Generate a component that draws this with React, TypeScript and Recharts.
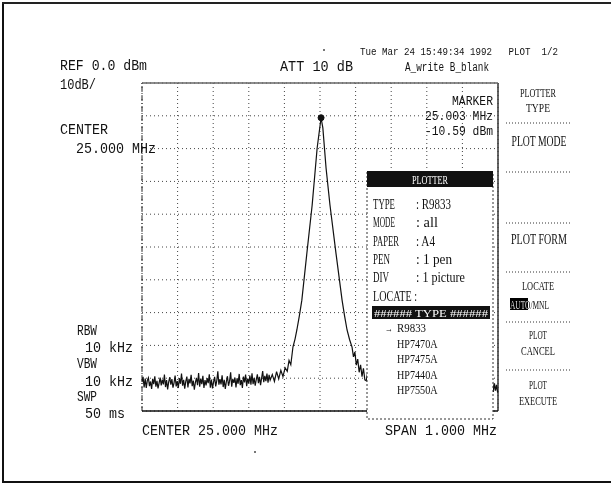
import React from "react";
import {
  LineChart,
  Line,
  XAxis,
  YAxis,
  CartesianGrid,
  ReferenceLine,
  ReferenceDot
} from "recharts";

// sweep: CENTER 25.000 MHz, SPAN 1.000 MHz, REF 0.0 dBm, 10 dB/div
const xTicks = [24.5, 24.6, 24.7, 24.8, 24.9, 25.0, 25.1, 25.2, 25.3, 25.4, 25.5];
const yTicks = [0, -10, -20, -30, -40, -50, -60, -70, -80, -90, -100];

const NOISE_STEP = 0.003;
const noiseLeftStart = 24.5;
const noiseLeft = [
  -91.2, -89.6, -92.8, -90.1, -93.0, -90.7, -89.9, -92.4, -91.0, -93.3,
  -90.2, -91.8, -89.4, -92.6, -90.8, -93.1, -91.5, -89.8, -92.2, -90.4,
  -91.9, -88.9, -92.7, -90.6, -93.4, -91.1, -89.7, -92.0, -90.3, -92.9,
  -91.4, -89.2, -92.5, -90.9, -93.0, -90.0, -91.7, -88.6, -92.3, -90.5,
  -93.2, -91.0, -89.5, -92.8, -90.2, -91.6, -89.0, -92.4, -90.7, -93.5,
  -91.3, -89.9, -92.1, -88.4, -92.6, -90.1, -91.8, -89.3, -93.0, -90.6,
  -92.2, -90.0, -91.5, -88.8, -92.9, -90.4, -93.1, -91.2, -89.6, -92.5,
  -90.8, -87.9, -92.0, -90.3, -91.9, -89.1, -92.7, -90.5, -93.3, -91.0,
  -89.4, -92.3, -90.9, -88.2, -92.6, -90.2, -91.4, -89.8, -92.8, -90.0,
  -91.7, -88.7, -92.1, -90.6, -93.0, -89.5, -91.3, -88.9, -92.4, -90.1,
  -91.6, -89.2, -92.0, -88.5, -91.8, -89.9, -92.3, -90.4, -88.8, -91.5,
  -89.6, -92.1, -90.0, -87.8, -91.2, -89.3, -90.9, -88.6, -91.4, -89.0
];

// carrier at marker 25.003 MHz / -10.59 dBm
const peakFreqs = [
  24.86, 24.866, 24.872, 24.878, 24.884, 24.89, 24.896, 24.902, 24.908, 24.913,
  24.918, 24.924, 24.93, 24.935, 24.942, 24.949, 24.963, 24.978, 24.992, 25.003,
  25.008, 25.017, 25.028, 25.045, 25.062, 25.069, 25.076, 25.083, 25.09, 25.094,
  25.098, 25.102, 25.106, 25.11, 25.114, 25.118, 25.122, 25.126
];
const peakLevels = [
  -90.6, -88.9, -91.0, -88.0, -90.2, -87.6, -89.5, -86.8, -87.9, -84.6,
  -85.9, -80.5, -78.0, -75.3, -71.0, -66.2, -52.0, -37.2, -19.8, -10.59,
  -13.7, -25.9, -37.2, -52.0, -66.2, -71.0, -75.3, -78.2, -80.5, -83.5,
  -82.0, -86.0, -84.2, -88.2, -85.9, -89.5, -87.0, -90.5
];

const noiseRightStart = 25.13;
const noiseRight = [
  -90.8, -88.7, -91.9, -89.4, -92.5, -90.2, -91.0, -88.9, -92.2, -90.6,
  -93.0, -91.3, -89.5, -92.6, -90.0, -91.7, -89.2, -92.9, -90.8, -93.2,
  -91.1, -89.7, -92.4, -90.3, -91.9, -88.8, -92.7, -90.5, -93.1, -91.4,
  -89.9, -92.0, -90.7, -93.3, -91.0, -89.4, -92.5, -90.1, -91.8, -89.0,
  -92.8, -90.4, -93.0, -91.2, -89.6, -92.3, -90.9, -92.6, -90.2, -91.5,
  -88.7, -92.1, -90.6, -93.4, -91.0, -89.8, -92.4, -90.0, -91.6, -89.3,
  -92.9, -90.5, -93.1, -91.3, -89.5, -92.2, -90.8, -91.9, -89.1, -92.7,
  -90.3, -93.0, -91.1, -89.9, -92.5, -90.4, -91.7, -88.9, -92.3, -90.7,
  -93.2, -91.4, -89.6, -92.0, -90.1, -91.8, -89.2, -92.8, -90.6, -93.3,
  -91.0, -89.7, -92.6, -90.2, -91.5, -88.8, -92.1, -90.9, -93.0, -91.2,
  -89.4, -92.4, -90.0, -91.9, -89.0, -92.7, -90.5, -93.1, -91.6, -89.8,
  -92.2, -90.3, -91.4, -88.6, -92.9, -90.8, -91.0, -93.5, -90.4, -94.2,
  -91.6, -93.8, -92.0, -94.4
];

const marker = { f: 25.003, v: -10.59 };

// PLOTTER window: label, value, label width, value width
const plotterRows: [string, string, number, number][] = [
  ["TYPE", "R9833", 22, 26],
  ["MODE", "all", 22, 13],
  ["PAPER", "A4", 26, 10],
  ["PEN", "1 pen", 17, 27],
  ["DIV", "1 picture", 16, 40]
];
const plotterTypes = ["R9833", "HP7470A", "HP7475A", "HP7440A", "HP7550A"];

const trace = [
  ...noiseLeft.map((v, i) => ({ f: +(noiseLeftStart + i * NOISE_STEP).toFixed(4), v })),
  ...peakFreqs.map((f, i) => ({ f, v: peakLevels[i] })),
  ...noiseRight.map((v, i) => ({ f: +(noiseRightStart + i * NOISE_STEP).toFixed(4), v }))
];

const MONO = "'Liberation Mono', 'DejaVu Sans Mono', monospace";
const SERIF = "'Liberation Serif', serif";

function T(props: {
  x: number;
  y: number;
  w: number;
  children: React.ReactNode;
  anchor?: "start" | "middle" | "end";
  fill?: string;
  font?: string;
  size?: number;
}) {
  return (
    <text
      x={props.x}
      y={props.y}
      textLength={props.w}
      lengthAdjust="spacingAndGlyphs"
      textAnchor={props.anchor ?? "start"}
      fill={props.fill ?? "#111"}
      fontFamily={props.font ?? MONO}
      fontSize={props.size ?? 14}
      style={{ whiteSpace: "pre" }}
    >
      {props.children}
    </text>
  );
}

export default function App() {
  return (
    <div style={{ position: "absolute", left: 0, top: 0, width: 611, height: 485, background: "#fff" }}>
      <LineChart
        width={611}
        height={485}
        data={trace}
        margin={{ top: 83, right: 113, bottom: 74, left: 142 }}
      >
        <XAxis type="number" dataKey="f" domain={[24.5, 25.5]} ticks={xTicks} hide />
        <YAxis type="number" domain={[-100, 0]} ticks={yTicks} hide />
        <CartesianGrid stroke="#444" strokeDasharray="1 3" />
        <ReferenceLine x={24.5} stroke="#222" strokeDasharray="5 2 1 2" />
        <ReferenceLine x={25.5} stroke="#333" strokeWidth={1.5} />
        <ReferenceLine y={0} stroke="#666" strokeWidth={1.5} />
        <ReferenceLine y={-100} stroke="#111" strokeWidth={1.5} />
        <Line
          dataKey="v"
          type="linear"
          stroke="#111"
          strokeWidth={1.2}
          dot={false}
          isAnimationActive={false}
        />
        <ReferenceDot x={marker.f} y={marker.v} r={3} fill="#111" stroke="#111" />
      </LineChart>

      <svg
        width={611}
        height={485}
        style={{ position: "absolute", left: 0, top: 0, pointerEvents: "none", background: "transparent" }}
      >
        {/* outer frame */}
        <rect x={2} y={2} width={2} height={481} fill="#111" />
        <rect x={2} y={2} width={609} height={2} fill="#222" />
        <rect x={2} y={481} width={609} height={2} fill="#111" />
        <rect x={323} y={49} width={2} height={2} fill="#777" />
        <rect x={254} y={451} width={2} height={2} fill="#777" />

        {/* header */}
        <T x={360} y={55} w={198} size={10.5}>{"Tue Mar 24 15:49:34 1992   PLOT  1/2"}</T>
        <T x={60} y={70} w={87}>REF 0.0 dBm</T>
        <T x={280} y={71} w={73}>ATT 10 dB</T>
        <T x={405} y={71} w={84} size={12}>A_write B_blank</T>
        <T x={60} y={89} w={36}>10dB/</T>

        {/* marker readout */}
        <T x={493} y={105} w={41} anchor="end" size={13}>MARKER</T>
        <T x={493} y={120} w={68} anchor="end" size={13}>25.003 MHz</T>
        <T x={493} y={135} w={68} anchor="end" size={13}>-10.59 dBm</T>

        {/* left annotations */}
        <T x={60} y={134} w={48}>CENTER</T>
        <T x={76} y={153} w={80}>25.000 MHz</T>
        <T x={77} y={335} w={20}>RBW</T>
        <T x={85} y={352} w={48}>10 kHz</T>
        <T x={77} y={368} w={20}>VBW</T>
        <T x={85} y={386} w={48}>10 kHz</T>
        <T x={77} y={401} w={20}>SWP</T>
        <T x={85} y={418} w={40}>50 ms</T>

        <T x={142} y={435} w={136}>CENTER 25.000 MHz</T>
        <T x={385} y={435} w={112}>SPAN 1.000 MHz</T>

        {/* soft keys */}
        <T x={538} y={97} w={36} anchor="middle" font={SERIF} size={13}>PLOTTER</T>
        <T x={538} y={112} w={24} anchor="middle" font={SERIF} size={13}>TYPE</T>
        <T x={539} y={146} w={55} anchor="middle" font={SERIF} size={14}>PLOT MODE</T>
        <T x={539} y={244} w={56} anchor="middle" font={SERIF} size={14}>PLOT FORM</T>
        <T x={538} y={290} w={32} anchor="middle" font={SERIF} size={13}>LOCATE</T>
        <T x={510} y={309} w={39} font={SERIF} size={12.5}>AUTO/MNL</T>
        {/* inverse video on AUTO */}
        <rect x={510} y={298} width={18} height={12} fill="#fff" style={{ mixBlendMode: "difference" }} />
        <T x={538} y={339} w={18} anchor="middle" font={SERIF} size={13}>PLOT</T>
        <T x={538} y={355} w={34} anchor="middle" font={SERIF} size={13}>CANCEL</T>
        <T x={538} y={389} w={18} anchor="middle" font={SERIF} size={13}>PLOT</T>
        <T x={538} y={405} w={38} anchor="middle" font={SERIF} size={13}>EXECUTE</T>
        {[123, 172, 223, 272, 322, 370].map((y) => (
          <line key={y} x1={506} x2={570} y1={y} y2={y} stroke="#333" strokeDasharray="1 2" />
        ))}

        {/* PLOTTER window */}
        <rect x={367} y={172} width={126} height={247} fill="#fff" stroke="#333" strokeDasharray="2 2" />
        <rect x={367} y={171} width={126} height={16} fill="#111" />
        <T x={430} y={184} w={36} anchor="middle" fill="#fff" font={SERIF} size={13}>PLOTTER</T>
        {plotterRows.map(([k, v, kw, vw], i) => (
          <g key={k}>
            <T x={373} y={209 + i * 18.3} w={kw} font={SERIF} size={14}>{k}</T>
            <T x={416} y={209 + i * 18.3} w={vw + 9} font={SERIF} size={15}>{": " + v}</T>
          </g>
        ))}
        <T x={373} y={300.5} w={44} font={SERIF} size={15}>LOCATE :</T>
        <rect x={372} y={306} width={118} height={13} fill="#111" />
        <T x={431} y={316.5} w={114} anchor="middle" fill="#fff" font={SERIF} size={11}>###### TYPE ######</T>
        <T x={385} y={332} w={8} font={SERIF} size={11}>→</T>
        {plotterTypes.map((t, i) => (
          <T key={t} x={397} y={332 + i * 15.6} w={t.length * 5.8} font={SERIF} size={13}>{t}</T>
        ))}
      </svg>
    </div>
  );
}
